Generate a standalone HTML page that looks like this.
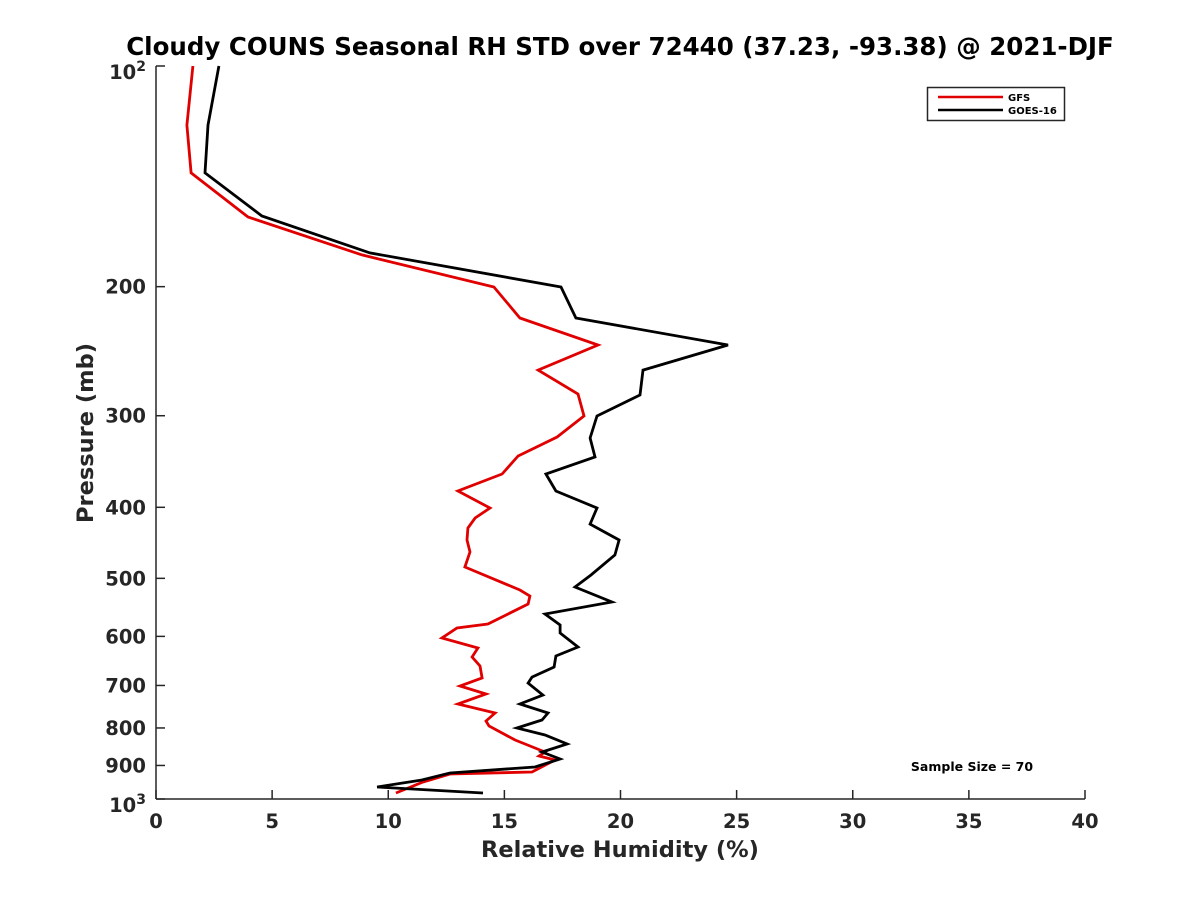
<!DOCTYPE html>
<html><head><meta charset="utf-8"><style>
body{margin:0;background:#fff;}
svg{display:block;font-family:"DejaVu Sans","Liberation Sans",sans-serif;font-weight:bold;}
</style></head><body>
<svg id="chart" width="1200" height="900">
<rect width="1200" height="900" fill="#fff"/>
<text x="620" y="55" text-anchor="middle" font-size="24.5" fill="#000">Cloudy COUNS Seasonal RH STD over 72440 (37.23, -93.38) @ 2021-DJF</text>
<g id="axes"></g>
<g id="series"></g>
<text x="620" y="857" text-anchor="middle" font-size="22.5" fill="#262626">Relative Humidity (%)</text>
<text transform="translate(93,433) rotate(-90)" text-anchor="middle" font-size="22.5" fill="#262626">Pressure (mb)</text>
<g>
<rect x="927.5" y="87.5" width="137" height="33" fill="#fff" stroke="#262626" stroke-width="1.5"/>
<line x1="938" y1="97" x2="1003" y2="97" stroke="#e00000" stroke-width="2.5"/>
<text x="1008" y="101" font-size="10" fill="#000">GFS</text>
<line x1="938" y1="110" x2="1003" y2="110" stroke="#000" stroke-width="2.5"/>
<text x="1008" y="114" font-size="10" fill="#000">GOES-16</text>
</g>
<text x="972" y="771" text-anchor="middle" font-size="12.5" fill="#000">Sample Size = 70</text>
</svg>
<script>
const xTicks = [0,5,10,15,20,25,30,35,40];
const yTicks = [200,300,400,500,600,700,800,900];
const gfsP = [100,120.4,139.9,160.7,181.0,200.2,220.7,240.2,259.9,280.2,300.3,320.7,340.5,360.3,380.0,400.9,413.7,426.9,443.3,460.3,482.5,518.6,528.5,541.9,577.1,584.4,603.1,622.3,640.2,658.5,683.9,701.2,719.0,741.9,763.2,782.6,795.0,830.8,862.7,873.7,884.7,918.7,924.5,948.0,981.3];
const gfsRH = [1.59,1.33,1.51,3.96,8.87,14.55,15.67,19.03,16.45,18.17,18.43,17.27,15.59,14.90,13.00,14.38,13.74,13.43,13.39,13.52,13.30,15.67,16.10,16.02,14.29,12.96,12.31,13.86,13.61,13.95,14.04,13.09,14.21,13.00,14.60,14.21,14.34,15.46,16.75,16.49,17.18,16.19,12.66,11.50,10.33];
const goesP = [100,120.4,139.9,160.2,179.9,200.2,220.7,240.2,259.9,281.1,300.3,321.7,341.5,360.3,380.0,400.9,421.6,443.3,464.7,494.8,513.8,538.5,559.3,578.9,593.7,620.4,638.2,660.6,681.8,694.8,721.5,741.9,763.2,780.2,800.0,817.8,841.3,862.7,881.9,904.4,921.6,942.1,963.0,981.3];
const goesRH = [2.71,2.24,2.11,4.56,9.21,17.44,18.08,24.63,20.97,20.84,18.99,18.69,18.90,16.79,17.22,18.99,18.69,19.94,19.76,18.73,18.04,19.63,16.75,17.40,17.40,18.17,17.22,17.14,16.19,16.02,16.66,15.67,16.88,16.62,15.54,16.75,17.70,16.62,17.40,16.32,12.66,11.45,9.52,14.08];

const L=156,R=1085,T=66,B=799;
const xs=v=>L+(v-0)/(40-0)*(R-L);
const ys=p=>T+(Math.log10(p)-2)*(B-T);
const NS="http://www.w3.org/2000/svg";
function mk(tag,parent,attrs){const e=document.createElementNS(NS,tag);for(const k in attrs)e.setAttribute(k,attrs[k]);parent.appendChild(e);return e;}
const ax=document.getElementById('axes');
const xl=mk('line',ax,{x1:L,y1:B,x2:R,y2:B,stroke:'#262626','stroke-width':1.5});


const yl=mk('line',ax,{x1:L,y1:T,x2:L,y2:B,stroke:'#262626','stroke-width':1.5});


xTicks.forEach(v=>{
  mk('line',ax,{x1:xs(v),y1:B,x2:xs(v),y2:B-9,stroke:'#262626','stroke-width':1.5});
  const t=mk('text',ax,{x:xs(v),y:B+29,'text-anchor':'middle','font-size':19.5,fill:'#262626'});
  t.textContent=v;
  
  
});
[100,1000].forEach((p,i)=>{
  mk('line',ax,{x1:L,y1:ys(p),x2:L+9,y2:ys(p),stroke:'#262626','stroke-width':1.5});
  const t=mk('text',ax,{x:L-10,y:ys(p)+13,'text-anchor':'end','font-size':19.5,fill:'#262626'});
  t.innerHTML='10<tspan dy="-8" font-size="14">'+(i?3:2)+'</tspan>';
  
  
});
yTicks.forEach(p=>{
  mk('line',ax,{x1:L,y1:ys(p),x2:L+9,y2:ys(p),stroke:'#262626','stroke-width':1.5});
  const t=mk('text',ax,{x:L-10,y:ys(p)+7,'text-anchor':'end','font-size':19.5,fill:'#262626'});
  t.textContent=p;
  
  
});
const sg=document.getElementById('series');
function line(P,V,color,name){
  const pts=P.map((p,i)=>xs(V[i]).toFixed(1)+','+ys(p).toFixed(1)).join(' ');
  const pl=mk('polyline',sg,{points:pts,fill:'none',stroke:color,'stroke-width':2.8,'stroke-linejoin':'miter'});
  
  
}
line(gfsP,gfsRH,'#e00000','gfs-line');
line(goesP,goesRH,'#000','goes16-line');
</script>
</body></html>
